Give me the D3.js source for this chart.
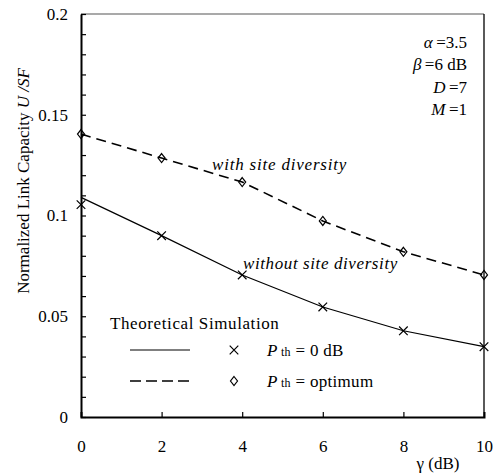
<!DOCTYPE html>
<html>
<head>
<meta charset="utf-8">
<script src="https://cdn.jsdelivr.net/npm/d3@7"></script>
<style>
  body { margin: 0; background: #fff; }
  svg text { font-family: "Liberation Serif", "Times New Roman", serif; fill: #000; }
</style>
</head>
<body>
<div id="chart"></div>
<script>
// gamma (dB) on x, normalized link capacity U/SF on y
var gammaDb = [0, 2, 4, 6, 8, 10];
var theoNoDiversity = [0.109, 0.090, 0.0705, 0.0546, 0.0428, 0.0349];
var simNoDiversity  = [0.1054, 0.090, 0.0705, 0.0546, 0.0428, 0.0349];
var theoDiversity   = [0.1404, 0.1285, 0.1166, 0.0973, 0.0820, 0.0705];
var simDiversity    = [0.1404, 0.1285, 0.1166, 0.0973, 0.0820, 0.0705];
var xTicks = [0, 2, 4, 6, 8, 10];
var yTicks = [0, 0.05, 0.1, 0.15, 0.2];
var yMinorTicks = d3.range(0, 0.2001, 0.01);
var params = ['α', 'β', 'D', 'M'];
var paramValues = ['\u2009=3.5', '\u2009=6 dB', '\u2009=7', '\u2009=1'];

var width = 495, height = 475;
var margin = { top: 14, right: 11, bottom: 58, left: 81 };
var innerW = width - margin.left - margin.right;
var innerH = height - margin.top - margin.bottom;
var FS = '17px';

var svg = d3.select('#chart').append('svg')
    .attr('width', width)
    .attr('height', height);

var g = svg.append('g')
    .attr('transform', 'translate(' + margin.left + ',' + margin.top + ')');

var x = d3.scaleLinear().domain([0, 10]).range([0, innerW]);
var y = d3.scaleLinear().domain([0, 0.2]).range([innerH, 0]);

// frame: top and right lighter, left and bottom heavier
g.append('line').attr('x1', 0).attr('x2', innerW).attr('y1', 0).attr('y2', 0)
    .attr('stroke', '#555').attr('stroke-width', 1.2);
g.append('line').attr('x1', innerW).attr('x2', innerW).attr('y1', 0).attr('y2', innerH)
    .attr('stroke', '#000').attr('stroke-width', 1.3);

// minor y ticks (inward)
g.append('g').call(d3.axisLeft(y).tickValues(yMinorTicks).tickSize(-5).tickFormat(''))
    .call(function (a) { a.select('.domain').remove(); })
    .selectAll('line').attr('stroke', '#000').attr('stroke-width', 1.2);

// y axis with labels
var yAx = g.append('g').call(d3.axisLeft(y).tickValues(yTicks).tickSize(0).tickPadding(13)
    .tickFormat(function (d) { return d === 0 ? '0' : String(+d.toFixed(2)); }));
yAx.select('.domain').attr('stroke', '#000').attr('stroke-width', 2);
yAx.selectAll('text').attr('font-size', FS).attr('font-family', '"Liberation Serif", serif');

// x axis
var xAx = g.append('g').attr('transform', 'translate(0,' + innerH + ')')
    .call(d3.axisBottom(x).tickValues(xTicks).tickSize(-5).tickPadding(23));
xAx.select('.domain').attr('stroke', '#000').attr('stroke-width', 2);
xAx.selectAll('line').attr('stroke', '#000').attr('stroke-width', 1.2)
    .filter(function (d) { return d === 0 || d === 10; }).remove();
xAx.selectAll('text').attr('font-size', FS).attr('font-family', '"Liberation Serif", serif');

// axis titles
svg.append('text')
    .attr('x', 438).attr('y', 469)
    .attr('text-anchor', 'middle')
    .attr('font-size', FS)
    .text('γ  (dB)');

var yl = svg.append('text')
    .attr('transform', 'translate(29,181) rotate(-90)')
    .attr('text-anchor', 'middle')
    .attr('font-size', FS);
yl.append('tspan').text('Normalized Link Capacity ');
yl.append('tspan').attr('font-style', 'italic').text('U /SF');

// theoretical curves
var line = d3.line()
    .x(function (d) { return x(d[0]); })
    .y(function (d) { return y(d[1]); });

g.append('path')
    .datum(d3.zip(gammaDb, theoNoDiversity))
    .attr('d', line)
    .attr('fill', 'none')
    .attr('stroke', '#000')
    .attr('stroke-width', 1.2);

g.append('path')
    .datum(d3.zip(gammaDb, theoDiversity))
    .attr('d', line)
    .attr('fill', 'none')
    .attr('stroke', '#000')
    .attr('stroke-width', 1.6)
    .attr('stroke-dasharray', '10,6');

// simulation markers
var cross = d3.symbol().type(d3.symbolX).size(50);
function diamondPath() { return 'M0,-4.5L3.5,0L0,4.5L-3.5,0Z'; }

g.selectAll('.sim-x')
    .data(d3.zip(gammaDb, simNoDiversity))
    .join('path')
    .attr('class', 'sim-x')
    .attr('transform', function (d) { return 'translate(' + x(d[0]) + ',' + y(d[1]) + ')'; })
    .attr('d', cross)
    .attr('fill', 'none').attr('stroke', '#000').attr('stroke-width', 1.2);

g.selectAll('.sim-d')
    .data(d3.zip(gammaDb, simDiversity))
    .join('path')
    .attr('class', 'sim-d')
    .attr('transform', function (d) { return 'translate(' + x(d[0]) + ',' + y(d[1]) + ')'; })
    .attr('d', diamondPath)
    .attr('fill', 'none').attr('stroke', '#000').attr('stroke-width', 1.2);

// curve annotations
svg.append('text').attr('x', 212).attr('y', 170)
    .attr('font-size', FS).attr('font-style', 'italic').attr('fill', '#333')
    .attr('letter-spacing', '0.8px')
    .text('with site diversity');
svg.append('text').attr('x', 243).attr('y', 269)
    .attr('font-size', FS).attr('font-style', 'italic').attr('fill', '#333')
    .attr('letter-spacing', '0.6px')
    .text('without site diversity');

// parameters, right-aligned
params.forEach(function (p, i) {
    var t = svg.append('text')
        .attr('x', 467).attr('y', 48 + i * 22.3)
        .attr('text-anchor', 'end')
        .attr('font-size', FS);
    t.append('tspan').attr('font-style', 'italic').text(p);
    t.append('tspan').text(paramValues[i]);
});

// legend
var leg = svg.append('g');
leg.append('text').attr('x', 110).attr('y', 329).attr('font-size', FS)
    .attr('letter-spacing', '0.6px')
    .text('Theoretical  Simulation');

var legRows = [
    { y: 350, dash: null, sw: 1.2, mark: cross, label: ' = 0 dB' },
    { y: 381, dash: '11,5', sw: 1.6, mark: diamondPath, label: ' = optimum' }
];
legRows.forEach(function (r) {
    var ln = leg.append('line')
        .attr('x1', 130).attr('x2', 190).attr('y1', r.y).attr('y2', r.y)
        .attr('stroke', '#000').attr('stroke-width', r.sw);
    if (r.dash) ln.attr('stroke-dasharray', r.dash);
    leg.append('path')
        .attr('transform', 'translate(234,' + r.y + ')')
        .attr('d', r.mark)
        .attr('fill', 'none').attr('stroke', '#000').attr('stroke-width', 1.2);
    var t = leg.append('text').attr('x', 267).attr('y', r.y + 6).attr('font-size', FS)
        .attr('letter-spacing', '0.3px');
    t.append('tspan').attr('font-style', 'italic').text('P');
    t.append('tspan').attr('font-size', '12px').text(' th');
    t.append('tspan').text(r.label);
});
</script>
</body>
</html>
